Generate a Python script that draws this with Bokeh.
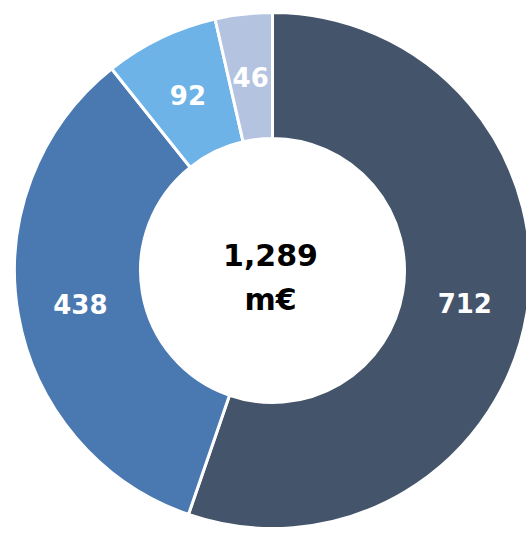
import numpy as np
from bokeh.plotting import figure
from bokeh.models import ColumnDataSource, Range1d
from bokeh.core.properties import value
from bokeh.embed import file_html
from bokeh.resources import INLINE

# Segment values (m€), drawn clockwise from 12 o'clock
values = [712, 438, 92, 46]
colors = ["#44546A", "#4A78B0", "#6DB3E8", "#B4C4E0"]
total_label = ["1,289", "m€"]

W, H = 526, 534
cx, cy = 272, 264
r_outer, r_inner = 258, 132

vals = np.array(values, dtype=float)
frac = vals / vals.sum()
cum = np.concatenate([[0], np.cumsum(frac)])
start = np.pi / 2 - cum[:-1] * 2 * np.pi
end = np.pi / 2 - cum[1:] * 2 * np.pi
mid = (start + end) / 2
r_mid = (r_outer + r_inner) / 2

src = ColumnDataSource(dict(
    start=start, end=end, color=colors,
    lx=cx + r_mid * np.cos(mid), ly=cy + r_mid * np.sin(mid),
    label=[str(v) for v in values],
))

p = figure(width=W, height=H, x_range=Range1d(0, W), y_range=Range1d(0, H),
           output_backend="svg", toolbar_location=None, min_border=0)
p.axis.visible = False
p.grid.visible = False
p.outline_line_color = None
p.background_fill_color = "white"
p.border_fill_color = "white"

p.annular_wedge(x=cx, y=cy, inner_radius=r_inner, outer_radius=r_outer,
                start_angle="start", end_angle="end", direction="clock",
                fill_color="color", line_color="white", line_width=3, source=src)

p.text(x="lx", y="ly", text="label", source=src, text_color="white",
       text_font=value("DejaVu Sans"), text_font_style="bold",
       text_font_size="26px", text_align="center", text_baseline="middle")

p.text(x=[cx - 2, cx - 2], y=[cy + 16, cy - 29], text=total_label,
       text_color="black", text_font=value("DejaVu Sans"), text_font_style="bold",
       text_font_size="30px", text_align="center", text_baseline="middle")

open("out.html", "w").write(file_html(p, INLINE))
